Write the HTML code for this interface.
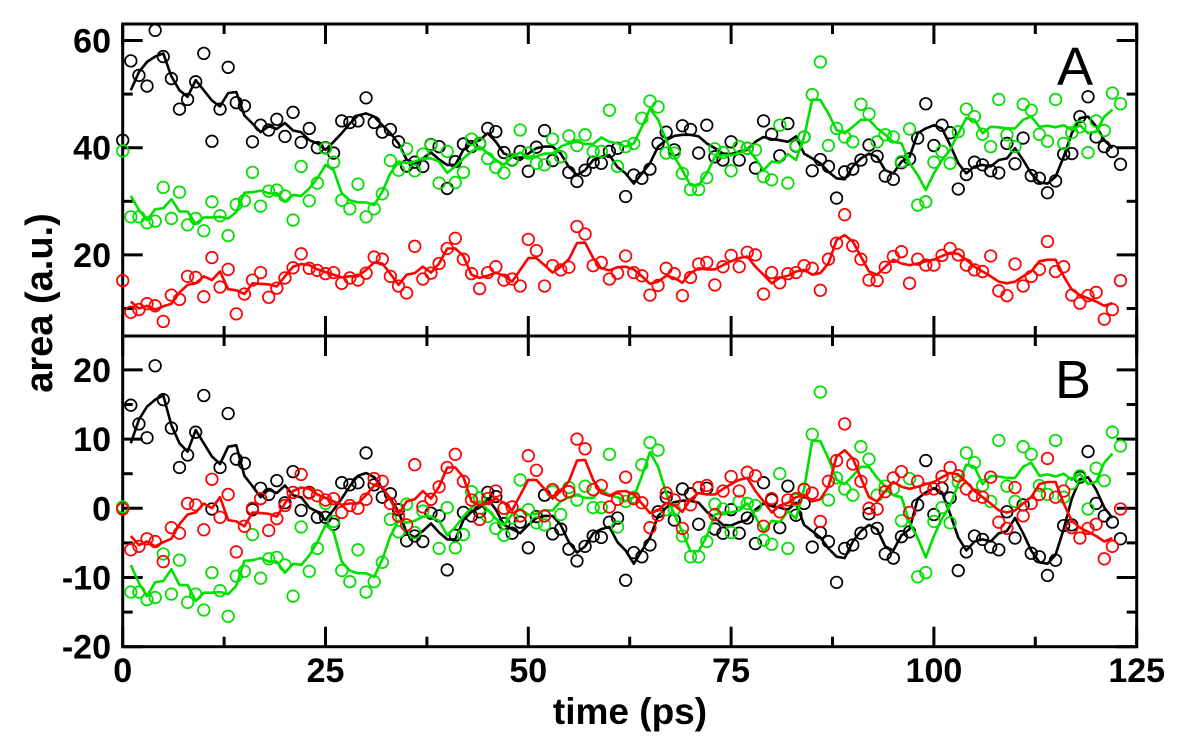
<!DOCTYPE html>
<html><head><meta charset="utf-8"><style>
html,body{margin:0;padding:0;background:#fff;}
svg{display:block;font-family:"Liberation Sans",Arial,sans-serif;}
</style></head><body>
<svg id="chart" width="1200" height="742" viewBox="0 0 1200 742">
<g id="gridA"></g>
<g id="gridB"></g>
<text x="1075" y="85" font-size="54" text-anchor="middle">A</text>
<text x="1073" y="398" font-size="54" text-anchor="middle">B</text>
<text x="630" y="724" font-size="37" font-weight="bold" text-anchor="middle">time (ps)</text>
<text x="0" y="0" font-size="38" font-weight="bold" text-anchor="middle" transform="translate(52,303) rotate(-90)">area (a.u.)</text>
</svg>
<script>
const xTicks = [0, 25, 50, 75, 100, 125];
const yTicksA = [20, 40, 60];
const yTicksB = [20, 10, 0, -10, -20];
const blackPts = [41.4,56.2,53.5,51.5,61.9,57,52.9,47.2,49,52.3,57.6,41.2,47.2,55,48.4,47.8,41.1,44.2,43.3,45.3,42.1,46.6,41,43.6,40,40,39,45,44.7,45,49.3,44.7,42.9,43.4,41.1,36.6,37.3,36.5,40.6,40.2,32.4,37.4,40.7,40.2,40.8,43.6,43,39.1,37.7,39.3,35.6,40.1,43.2,37.6,38.3,35.4,33.7,35.8,37.3,37.1,39.3,39.9,30.9,34.9,34.3,36,40.8,42.9,39.6,44.1,43.4,39,44.2,38.3,37.7,41.1,37.7,39.9,36.2,45,42.5,38.5,44.5,40.3,42,35.7,37.8,36.5,30.6,35.5,36,37.7,40.5,38.4,34.7,34.1,37.2,37.9,41.8,48.2,40.4,44.2,42.8,32.3,35,37.3,36.8,35.7,35.3,40.8,37,41.8,34.8,34.3,31.6,33.8,38.8,38.9,45.8,49.5,42,40.2,39.3,36.9];
const blackLine = [50.7,54.1,56,57,57.6,53.3,50.7,49.5,52.6,50.7,48.8,47.7,50.2,50.4,46,44.5,42.9,44,43.5,44.6,43.2,42.9,41.4,40.8,39.6,41.1,42.7,44.5,46,46.4,45.8,44.2,42.7,40.8,37.8,37.1,38,39.1,37.8,36.8,36.8,39.6,40.8,41.4,42.7,41.1,38.9,38.3,37.7,38.9,39.9,40.2,40.2,38.9,36.4,34.9,35.8,37.7,38.3,38.6,36.4,35.2,33.3,35.2,37.1,40.2,41.4,42.2,42.4,42.4,42.1,40.8,39.9,38.9,38.8,39.3,39.6,41.1,42,41.6,41.4,41.1,42.1,38.9,38,37.1,35.5,34.3,34.1,36.5,38,38.9,38.3,35.8,35.2,37.4,38.3,42.7,43.6,44.2,43.6,40.5,37.1,35.2,36.5,36.8,36.5,37.7,38,39.9,37.7,35.2,33.5,33.3,34.6,38.3,42.7,45.5,45.8,44,41.4,39.9];
const greenPts = [39.4,27.1,27.1,26,26.3,32.6,26.8,31.7,25.6,26.8,24.5,29.9,27.3,23.6,29.4,30.1,35.4,29.1,31.9,32.1,31,26.5,36.5,30.1,33.4,39.9,37.3,30.2,28.6,33.2,27.1,28.6,31.4,37.6,35.8,39.8,35.7,38.8,40.5,33.4,39.3,33.5,35.4,41.6,40.7,38,36.3,35.3,37.8,43.3,39,37.1,36.8,41.6,38.3,42.2,40.4,42.4,39.3,39.3,47,36.5,40.2,40.8,45.5,48.7,47.6,39,39,35.2,32.2,32.2,34.4,39.8,39.1,35.7,40.2,39.9,39.6,34.6,34,44.2,33.4,40.4,42,49.9,56,40.4,43.6,42,41.1,48.1,46.3,41.1,42.4,42,37.4,43.5,29.3,29.9,37.3,39.3,37.1,43,47.2,45.8,42.5,40.2,49,42.4,40.2,48.1,47,42.5,41.2,49,40.8,42.8,43.9,39.1,45,43.2,50.2,48.2];
const greenLine = [31,28.4,26.5,28.5,28.7,30.4,28.1,28.1,25.8,27,27,27.1,26.8,28,31.6,31.7,32,31.5,31.5,29.9,31.2,31,32.4,34.3,36.8,35.8,31.5,30.2,29.8,29.8,29.3,31.8,35.2,37.4,37.1,37.4,38,38,37.4,35.3,36.5,38,39.3,40.2,39,37.7,36.8,38.3,39.1,38.3,38.4,38.9,38.9,40.2,40.8,41.1,40.7,40.7,41.9,41.1,40.8,40.2,40.8,43.9,47.3,45.2,41.4,38.3,35.8,33,33,35.2,38.3,38.6,38.6,38.9,39.9,38,35.8,37.4,37.2,38.8,37.7,42,49,48.9,46.4,43.3,42.7,43.9,45.2,45.2,43.6,42.4,41.1,40.8,37.1,34.9,32.1,35.2,37.7,39.6,42.7,45.5,45.2,42.7,43.9,43.8,43.6,43.6,45.2,45.8,43.9,44.1,43.8,44.2,43.3,44.2,42.7,43,45.8,47.1];
const redPts = [15.2,9.3,9.8,10.9,10.5,7.6,12.5,11.7,16,15.8,12.2,19.5,14,17.3,9,12.7,15.3,16.7,12.1,13.8,15.7,17.6,20.2,17.5,17.1,16.5,16.7,14.7,15.7,15.3,16.6,19.6,19.2,16,14.2,12.9,21.6,15.5,16.6,18.4,21.2,23.1,19.2,16.5,13.7,16.7,17.8,15.3,15.5,14.2,22.9,20.8,14.2,18,17.2,17.7,25.3,23.9,18,18.6,15.5,16.6,19.8,16.7,16.1,12.5,14.3,17.5,16.5,12.4,15.8,18.3,18.6,14.4,17.8,19.9,17.8,20.5,20,12.7,16.7,14.8,16.5,16.7,18,17.5,13.4,19.2,22.2,27.5,21.7,19.2,15.3,15.2,17.7,19.7,20.6,14.7,19.2,18.1,18.1,19.9,21.2,20,18.1,17.2,16.9,19.8,13.3,12.4,18.3,14.2,16,17.3,22.5,16.9,17.8,12.5,11,12.4,13,8,9.8,15.2];
const redLine = [11.3,10,10.5,9.8,10.4,10.9,13,14.4,14.7,16,15.3,16.9,13.6,13.4,12.7,14.7,14.6,14.5,14.1,16,17.8,18.3,18.1,17.3,16.8,16.3,15.8,16,16,17.2,18.6,18.4,16.5,14.4,16.3,16.6,17.8,16.7,18.4,21.2,21.2,19.8,16.3,15.7,16.1,16.7,16.1,15,17.2,19.4,19.4,18.1,16.7,17.8,19.2,22.2,22.3,19.4,17.5,17.1,17.7,17.8,17.3,16,14.6,15,16.1,15.7,14.8,16.6,17.5,17.3,17.3,18.1,18.8,19.4,19.7,17.8,16.3,14.7,15.7,16.1,16.9,17.2,16.3,16.6,18.4,22.8,23.7,22.5,19.7,16.9,16.3,17.8,19.1,18.4,18.1,18.4,18.8,19.1,19.8,20.4,20.2,19.1,17.8,16.9,16,15,14.7,15,16,16.9,18.8,19.1,19.1,16,13.5,12.5,11.9,11.3,10.5,11];
// panel B shows deviation from each series' mean
const seriesMeans = [41.3, 39.2, 15.3];

const NS = 'http://www.w3.org/2000/svg';
const svg = document.getElementById('chart');
const gA = document.getElementById('gridA');
const gB = document.getElementById('gridB');
const X0 = 122.7, X1 = 1136.7;
const xs = t => X0 + t * (X1 - X0) / 125;
const yA = v => 147.7 - (v - 40) * 5.36;
const yB = v => 508.3 - v * 6.92;
const topA = 24, botA = 336, topB = 336, botB = 646.7;

function mk(tag, attrs, parent) {
  const e = document.createElementNS(NS, tag);
  for (const k in attrs) e.setAttribute(k, attrs[k]);
  parent.appendChild(e);
  return e;
}

function frame(g, top, bot, ticksMaj, ticksMin, yf, labels) {
  const r = mk('rect', {x: X0, y: top, width: X1 - X0, height: bot - top, fill: 'none', stroke: '#000', 'stroke-width': 3}, g);
  
  
  for (let t = 0; t <= 125; t += 12.5) {
    const major = (t % 25 === 0);
    const L = major ? 20 : 10;
    const x = xs(t);
    const a = mk('line', {x1: x, x2: x, y1: top, y2: top + L, stroke: '#000', 'stroke-width': 3}, g);
    
    
    const b = mk('line', {x1: x, x2: x, y1: bot, y2: bot - L, stroke: '#000', 'stroke-width': 3}, g);
    
    
  }
  const all = ticksMaj.map(v => [v, 20]).concat(ticksMin.map(v => [v, 10]));
  all.forEach(([v, L]) => {
    const y = yf(v);
    const a = mk('line', {x1: X0, x2: X0 + L, y1: y, y2: y, stroke: '#000', 'stroke-width': 3}, g);
    
    
    const b = mk('line', {x1: X1, x2: X1 - L, y1: y, y2: y, stroke: '#000', 'stroke-width': 3}, g);
    
    
  });
  labels.forEach(v => {
    const t = mk('text', {x: 111, y: yf(v) + 12, 'font-size': 34, 'font-weight': 'bold', 'text-anchor': 'end'}, g);
    
    
    t.textContent = v;
  });
}
frame(gA, topA, botA, yTicksA, [10, 30, 50], yA, yTicksA);
frame(gB, topB, botB, yTicksB, [15, 5, -5, -15], yB, yTicksB);

xTicks.forEach(v => {
  const t = mk('text', {x: xs(v), y: 682, 'font-size': 34, 'font-weight': 'bold', 'text-anchor': 'middle'}, svg);
  
  
  t.textContent = v;
});

function series(g, pts, line, yf, off, color, name) {
  const d = line.map((v, i) => (i ? 'L' : 'M') + xs(i + 1).toFixed(1) + ',' + yf(v - off).toFixed(1)).join('');
  const p = mk('path', {d: d, fill: 'none', stroke: color, 'stroke-width': 2.6, 'stroke-linejoin': 'round'}, g);
  
  
  pts.forEach((v, i) => {
    const c = mk('circle', {cx: xs(i), cy: yf(v - off), r: 5.8, fill: 'none', stroke: color, 'stroke-width': 1.7}, g);
    
    
  });
}
series(gA, blackPts, blackLine, yA, 0, '#000', 'black-series-a');
series(gA, greenPts, greenLine, yA, 0, '#00e000', 'green-series-a');
series(gA, redPts, redLine, yA, 0, '#ff0000', 'red-series-a');
series(gB, blackPts, blackLine, yB, seriesMeans[0], '#000', 'black-series-b');
series(gB, greenPts, greenLine, yB, seriesMeans[1], '#00e000', 'green-series-b');
series(gB, redPts, redLine, yB, seriesMeans[2], '#ff0000', 'red-series-b');
</script>
</body></html>
